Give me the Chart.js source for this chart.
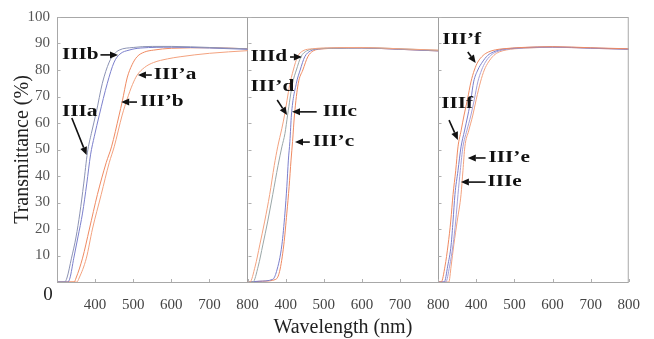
<!DOCTYPE html>
<html><head><meta charset="utf-8">
<script src="https://cdn.jsdelivr.net/npm/chart.js@4/dist/chart.umd.min.js"></script>
<style>html,body{margin:0;padding:0;background:#fff}canvas{display:block}</style>
</head><body>
<canvas id="c" width="654" height="339"></canvas>
<script>
// wavelength range of each panel and panel offsets on the shared axis
const panelOffsets = [0, 500, 1000];
const xTickValues = [400, 500, 600, 700, 800];
const yTickValues = [10, 20, 30, 40, 50, 60, 70, 80, 90, 100];

// Panel 1 series: [wavelength nm, transmittance %]
const IIIb = [[300,0],[320,0],[326,1.5],[338,9],[350,17],[360,26],[370,37],[380,49],[390,56],[403,64],[419,75],[437,83],[450,86],[463,87.5],[500,88.5],[550,88.9],[600,88.9],[700,88.5],[800,88]];
const IIIa = [[300,0],[328,0],[334,1.5],[344,9],[355,17],[367,26],[378,37],[388,48],[398,55],[411,63],[432,75],[450,83],[465,86],[489,87.5],[520,88.3],[600,88.6],[700,88.3],[800,87.8]];
const IIIpb = [[300,0],[345,0],[350,1.5],[367,9],[385,20],[406,33],[429,45],[443,51],[463,63],[471,68],[484,77],[497,82],[510,85],[530,86.8],[553,87.5],[600,88.2],[700,88.4],[800,88]];
const IIIpa = [[300,0],[352,0],[358,1.5],[377,9],[393,20],[416,33],[437,45],[450,51],[471,63],[484,69],[498,74.5],[510,78],[530,81],[553,82.8],[590,84.2],[623,85],[700,86.3],[800,87.3]];
// Panel 2 series
const IIIpd = [[300,0],[306,0],[320,6],[332,14],[345,23],[358,33],[370,44],[379,51],[390,58],[397,63],[410,74],[420,80],[431,85],[445,87.2],[470,88],[500,88.3],[600,88.5],[700,88],[800,87.5]];
const IIId = [[300,0],[314,0],[328,6],[340,14],[353,23],[366,33],[380,44],[390,51],[398,56],[405,63],[418,75],[428,80],[440,85],[455,87.2],[480,88],[510,88.2],[600,88.4],[700,88],[800,87.4]];
const IIIc = [[300,0],[330,0.3],[366,1],[376,4],[390,14],[398,26],[403,36],[407,46],[411,53],[415,63],[428,75],[438,80],[450,85],[465,87.2],[490,88],[520,88.2],[600,88.3],[700,87.8],[800,87.2]];
const IIIpc = [[300,0],[340,0.3],[374,1],[384,4],[395,14],[403,26],[409,36],[414,46],[418,53],[423,63],[433,75],[445,80],[458,85],[472,87.2],[500,88],[530,88.2],[600,88.3],[700,87.8],[800,87.2]];
// Panel 3 series
const IIIpf = [[300,0],[308,0],[318,6],[326,14],[333,23],[339,33],[346,42],[352,51],[360,57],[368,63],[377,69],[386,75.5],[395,80],[404,83],[418,85.5],[432,86.8],[450,87.6],[470,88],[520,88.5],[600,88.8],[700,88.4],[800,88]];
const IIIf = [[300,0],[316,0],[325,6],[334,14],[339,23],[344,33],[352,42],[360,51],[369,57],[378,63],[386,69],[393,75.5],[404,80],[416,83],[430,85.5],[445,86.8],[460,87.6],[480,88],[530,88.5],[600,88.7],[700,88.3],[800,87.9]];
const IIIe = [[300,0],[320,0],[330,6],[339,14],[346,23],[352,33],[358,42],[365,51],[375,57],[386,63],[395,69],[404,75.5],[414,80],[424,83],[438,85.5],[452,86.8],[470,87.6],[490,88],[540,88.4],[600,88.6],[700,88.2],[800,87.8]];
const IIIpe = [[300,0],[328,0],[334,6],[341,14],[350,23],[360,33],[365,42],[370,51],[380,57],[391,63],[400,69],[411,75.5],[421,80],[432,83],[446,85.5],[460,86.8],[480,87.6],[500,88],[550,88.4],[600,88.6],[700,88.2],[800,87.8]];

// label text, panel, text anchor (wavelength, %), arrow from -> to (wavelength, %)
const labels = [
  {t:"IIIb",  p:0, tx:313, ty:85.7, ax:414, ay:85.7, bx:460, by:85.7},
  {t:"IIIa",  p:0, tx:313, ty:64.2, ax:338.9, ay:61.9, bx:377.7, by:47.9},
  {t:"III\u2019a", p:0, tx:553.9, ty:78.1, ax:548.7, ay:78.1, bx:512.4, by:78.1},
  {t:"III\u2019b", p:0, tx:517.6, ty:67.9, ax:509.8, ay:67.9, bx:468.4, by:67.9},
  {t:"IIId",  p:1, tx:307.8, ty:84.9, ax:411.4, ay:84.9, bx:442.5, by:84.9},
  {t:"III\u2019d", p:1, tx:307.8, ty:73.6, ax:377.7, ay:68.7, bx:403.6, by:63.0},
  {t:"IIIc",  p:1, tx:496.9, ty:64.2, ax:481.3, ay:64.2, bx:416.6, by:64.2},
  {t:"III\u2019c", p:1, tx:471, ty:52.8, ax:463.2, ay:52.8, bx:424.4, by:52.8},
  {t:"III\u2019f", p:2, tx:310.4, ty:91.3, ax:377.7, ay:86.8, bx:398.4, by:82.6},
  {t:"IIIf",  p:2, tx:307.8, ty:67.5, ax:328.5, ay:61.1, bx:351.8, by:53.6},
  {t:"III\u2019e", p:2, tx:432.1, ty:46.8, ax:424.4, ay:46.8, bx:377.7, by:46.8},
  {t:"IIIe",  p:2, tx:429.5, ty:37.7, ax:424.4, ay:37.7, bx:359.6, by:37.7}
];

const BLUE = '#7b7fcc', BLUE2 = '#8c93b4', ORANGE = '#ef8a62', ORANGE2 = '#f3a27f';
const seriesDefs = [
  {d:IIIb, p:0, c:BLUE2}, {d:IIIa, p:0, c:BLUE}, {d:IIIpb, p:0, c:ORANGE}, {d:IIIpa, p:0, c:ORANGE2},
  {d:IIIpd, p:1, c:ORANGE2}, {d:IIId, p:1, c:'#9aa7a8'}, {d:IIIc, p:1, c:BLUE}, {d:IIIpc, p:1, c:ORANGE},
  {d:IIIpf, p:2, c:ORANGE}, {d:IIIf, p:2, c:BLUE}, {d:IIIe, p:2, c:'#a6a0d8'}, {d:IIIpe, p:2, c:ORANGE2}
];

const datasets = seriesDefs.map(s => ({
  data: s.d.map(([w, t]) => ({x: w + panelOffsets[s.p], y: t})),
  borderColor: s.c, borderWidth: 1, pointRadius: 0, fill: false,
  tension: 0.4, cubicInterpolationMode: 'monotone'
}));

const SERIF = '"Liberation Serif", "DejaVu Serif", serif';

const decor = {
  id: 'decor',
  afterDatasetsDraw(chart) {
    const {ctx, chartArea: a, scales: {x, y}} = chart;
    ctx.save();
    // frame
    ctx.strokeStyle = '#a8a8a8'; ctx.lineWidth = 1;
    ctx.strokeRect(a.left + 0.5, a.top + 0.5, a.right - a.left - 1, a.bottom - a.top);
    // inner ticks
    ctx.strokeStyle = '#b0b0b0';
    ctx.beginPath();
    panelOffsets.forEach(off => {
      xTickValues.forEach(v => {
        const px = Math.round(x.getPixelForValue(v + off)) + 0.5;
        ctx.moveTo(px, a.bottom); ctx.lineTo(px, a.bottom - 3);
      });
      const lx = Math.round(x.getPixelForValue(300 + off)) + 0.5;
      yTickValues.forEach(v => {
        const py = Math.round(y.getPixelForValue(v)) + 0.5;
        ctx.moveTo(lx, py); ctx.lineTo(lx + 3, py);
      });
    });
    ctx.stroke();
    // the zero label
    ctx.fillStyle = '#222';
    ctx.font = '19px ' + SERIF;
    ctx.textAlign = 'center'; ctx.textBaseline = 'middle';
    ctx.fillText('0', a.left - 9, y.getPixelForValue(0) + 13);
    // annotation labels and arrows
    ctx.font = 'bold 17px ' + SERIF;
    ctx.textAlign = 'left';
    ctx.fillStyle = '#111'; ctx.strokeStyle = '#111'; ctx.lineWidth = 1.6;
    labels.forEach(L => {
      const off = panelOffsets[L.p];
      const tx = x.getPixelForValue(L.tx + off), ty = y.getPixelForValue(L.ty);
      ctx.save();
      ctx.translate(tx, ty); ctx.scale(1.25, 1);
      ctx.fillText(L.t, 0, 0);
      ctx.restore();
      const x1 = x.getPixelForValue(L.ax + off), y1 = y.getPixelForValue(L.ay);
      const x2 = x.getPixelForValue(L.bx + off), y2 = y.getPixelForValue(L.by);
      const ang = Math.atan2(y2 - y1, x2 - x1);
      const hl = 8, hw = 3.5;
      const bxp = x2 - hl * Math.cos(ang), byp = y2 - hl * Math.sin(ang);
      ctx.beginPath(); ctx.moveTo(x1, y1); ctx.lineTo(bxp, byp); ctx.stroke();
      ctx.beginPath();
      ctx.moveTo(x2, y2);
      ctx.lineTo(bxp + hw * Math.sin(ang), byp - hw * Math.cos(ang));
      ctx.lineTo(bxp - hw * Math.sin(ang), byp + hw * Math.cos(ang));
      ctx.closePath(); ctx.fill();
    });
    ctx.restore();
  }
};

new Chart(document.getElementById('c'), {
  type: 'line',
  data: {datasets},
  plugins: [decor],
  options: {
    responsive: false, animation: false,
    layout: {padding: {top: 17, right: 18, left: 0, bottom: 0}},
    plugins: {legend: {display: false}, tooltip: {enabled: false}},
    scales: {
      x: {
        type: 'linear', min: 300, max: 1800,
        afterBuildTicks: s => { s.ticks = []; for (let v = 300; v <= 1800; v += 100) s.ticks.push({value: v}); },
        afterFit: s => { s.height = 57; },
        ticks: {
          maxRotation: 0, autoSkip: false, padding: 14, color: '#444',
          font: {family: SERIF, size: 15},
          callback: v => v === 300 ? '' : ((v - 300) % 500 === 0 ? '800' : String((v - 300) % 500 + 300))
        },
        grid: {drawTicks: false, color: c => (c.tick && (c.tick.value === 800 || c.tick.value === 1300)) ? '#a0a0a0' : 'rgba(0,0,0,0)'},
        border: {display: false},
        title: {display: true, text: 'Wavelength (nm)', color: '#222', font: {family: SERIF, size: 20, lineHeight: 1.0}, padding: {top: 0, bottom: 1}}
      },
      y: {
        min: 0, max: 100,
        afterBuildTicks: s => { s.ticks = []; for (let v = 0; v <= 100; v += 10) s.ticks.push({value: v}); },
        afterFit: s => { s.width = 57; },
        ticks: {padding: 7, color: '#555', font: {family: SERIF, size: 15}, callback: v => v === 0 ? '' : String(v)},
        grid: {display: false, drawTicks: false},
        border: {display: false},
        title: {display: true, text: 'Transmittance (%)', color: '#222', font: {family: SERIF, size: 20, lineHeight: 1.0}, padding: {top: 13, bottom: 0}}
      }
    }
  }
});
</script>
</body></html>
